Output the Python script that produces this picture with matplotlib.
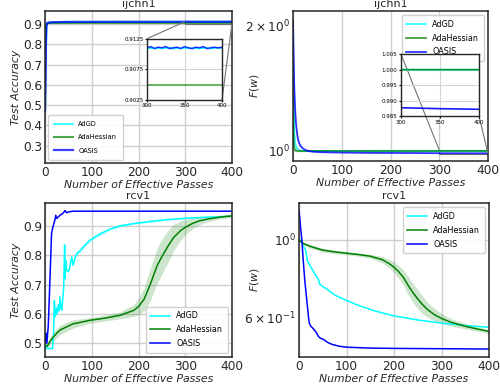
import numpy as np
import matplotlib.pyplot as plt
from matplotlib.ticker import FixedLocator
from mpl_toolkits.axes_grid1.inset_locator import mark_inset

# colores de los tres métodos
C_ADGD = 'cyan'
C_AH = 'green'
C_OASIS = 'blue'

# ---- ijcnn1: precisión ----
ij_acc_x = [0, 1, 2, 3, 4, 5, 8, 12, 20, 40, 80, 150, 220,
            300, 305, 310, 315, 320, 325, 330, 335, 340, 345, 350,
            355, 360, 365, 370, 375, 380, 385, 390, 395, 400]
ij_acc_adgd = [0.47, 0.60, 0.78, 0.87, 0.895, 0.902, 0.906, 0.908, 0.909, 0.910, 0.9105, 0.9107, 0.9108,
               0.9109, 0.9110, 0.9109, 0.9110, 0.9109, 0.9110, 0.9110, 0.9109, 0.9110, 0.9109, 0.9110,
               0.9110, 0.9109, 0.9110, 0.9109, 0.9110, 0.9110, 0.9109, 0.9110, 0.9110, 0.9110]
ij_acc_ah = [0.47, 0.75, 0.89, 0.90, 0.903, 0.904, 0.9045, 0.905, 0.905, 0.905, 0.905, 0.905, 0.905,
             0.905, 0.905, 0.905, 0.905, 0.905, 0.905, 0.905, 0.905, 0.905, 0.905, 0.905,
             0.905, 0.905, 0.905, 0.905, 0.905, 0.905, 0.905, 0.905, 0.905, 0.905]
ij_acc_oasis = [0.47, 0.62, 0.80, 0.885, 0.900, 0.905, 0.907, 0.908, 0.909, 0.910, 0.9105, 0.9108, 0.9109,
                0.9110, 0.9112, 0.9109, 0.9111, 0.9110, 0.9112, 0.9109, 0.9110, 0.9111, 0.9109, 0.9112,
                0.9110, 0.9109, 0.9111, 0.9110, 0.9112, 0.9109, 0.9110, 0.9111, 0.9110, 0.9111]

# ---- ijcnn1: función objetivo ----
ij_loss_x = [0, 1, 2, 3, 4, 5, 6, 8, 10, 12, 15, 20, 25, 30, 40, 60, 100, 150, 200, 250, 300, 350, 400]
ij_loss_adgd = [2.05, 1.45, 1.20, 1.10, 1.06, 1.04, 1.03, 1.015, 1.008, 1.005, 1.003, 1.001, 1.0005,
                1.0002, 1.0001, 1.0, 1.0, 1.0, 1.0, 1.0, 1.0, 1.0, 1.0]
ij_loss_ah = [2.05, 1.12, 1.04, 1.015, 1.007, 1.004, 1.002, 1.001, 1.0005, 1.0002, 1.0, 1.0, 1.0,
              1.0, 1.0, 1.0, 1.0, 1.0, 1.0, 1.0, 1.0, 1.0, 1.0]
ij_loss_oasis = [2.05, 1.75, 1.52, 1.38, 1.29, 1.22, 1.17, 1.11, 1.07, 1.05, 1.03, 1.015, 1.006,
                 1.001, 0.996, 0.993, 0.991, 0.9895, 0.989, 0.9885, 0.9877, 0.9874, 0.9872]
ij_loss_oasis_std = [0.04, 0.04, 0.035, 0.03, 0.025, 0.02, 0.015, 0.01, 0.008, 0.006, 0.004, 0.002, 0.001,
                     0.0005, 0.0004, 0.0003, 0.0003, 0.0003, 0.0003, 0.0003, 0.0003, 0.0003, 0.0003]

# ---- rcv1: precisión ----
rc_acc_adgd_x = [0, 2, 3, 10, 16, 18, 20, 22, 24, 26, 28, 30, 32, 34, 36, 38, 40, 42, 43, 44, 46,
                 50, 53, 57, 60, 64, 68, 75, 82, 96, 118, 139, 160, 190, 225, 260, 300, 340, 370, 400]
rc_acc_adgd = [0.53, 0.50, 0.482, 0.482, 0.482, 0.52, 0.645, 0.59, 0.62, 0.60, 0.63, 0.61, 0.658, 0.62,
               0.613, 0.65, 0.69, 0.835, 0.72, 0.783, 0.749, 0.745, 0.76, 0.794, 0.766, 0.79, 0.806,
               0.815, 0.828, 0.851, 0.873, 0.889, 0.90, 0.908, 0.915, 0.921, 0.926, 0.929, 0.931, 0.933]
rc_acc_adgd_std = [0.0, 0.0, 0.0, 0.0, 0.0, 0.0, 0.0, 0.0, 0.0, 0.0, 0.0, 0.0, 0.0, 0.0,
                   0.0, 0.0, 0.004, 0.005, 0.005, 0.005, 0.005, 0.005, 0.005, 0.005, 0.005, 0.005, 0.005,
                   0.005, 0.005, 0.005, 0.005, 0.004, 0.004, 0.003, 0.003, 0.002, 0.002, 0.001, 0.001, 0.001]

rc_acc_oasis_x = [0, 2, 4, 7, 9, 12, 14, 16, 18, 21, 23, 25, 28, 32, 36, 39, 43, 46, 52, 60, 100, 200, 300, 400]
rc_acc_oasis = [0.50, 0.535, 0.50, 0.56, 0.647, 0.78, 0.874, 0.89, 0.902, 0.919, 0.936, 0.925, 0.93, 0.936,
                0.94, 0.944, 0.952, 0.945, 0.948, 0.95, 0.95, 0.95, 0.95, 0.95]

rc_acc_ah_x = [0, 5, 10, 18, 32, 60, 96, 130, 160, 190, 200, 212, 225, 240, 250, 262, 275, 290, 300,
               315, 330, 350, 375, 400]
rc_acc_ah = [0.49, 0.49, 0.505, 0.522, 0.545, 0.566, 0.578, 0.586, 0.595, 0.612, 0.625, 0.65, 0.70,
             0.765, 0.795, 0.828, 0.86, 0.884, 0.895, 0.908, 0.917, 0.924, 0.93, 0.934]
rc_acc_ah_std = [0.005, 0.008, 0.012, 0.015, 0.016, 0.014, 0.01, 0.01, 0.012, 0.02, 0.028, 0.04,
                 0.055, 0.06, 0.06, 0.055, 0.045, 0.033, 0.026, 0.018, 0.013, 0.009, 0.006, 0.005]

# ---- rcv1: función objetivo ----
rc_loss_adgd_x = [0, 5, 10, 14, 16, 18, 20, 23, 26, 30, 33, 36, 40, 44, 50, 60, 75, 100, 130, 160,
                  200, 250, 300, 350, 400]
rc_loss_adgd = [1.01, 0.985, 0.955, 0.935, 0.90, 0.87, 0.86, 0.845, 0.83, 0.815, 0.80, 0.79, 0.775,
                0.745, 0.735, 0.72, 0.695, 0.67, 0.645, 0.625, 0.605, 0.589, 0.577, 0.568, 0.561]

rc_loss_oasis_x = [0, 3, 6, 9, 12, 15, 18, 20, 22, 25, 30, 34, 37, 41, 45, 50, 55, 60, 70, 85, 100,
                   150, 200, 300, 400]
rc_loss_oasis = [1.22, 1.10, 1.00, 0.87, 0.77, 0.70, 0.64, 0.60, 0.575, 0.565, 0.556, 0.548, 0.54,
                 0.528, 0.522, 0.519, 0.514, 0.508, 0.501, 0.495, 0.492, 0.489, 0.488, 0.487, 0.486]

rc_loss_ah_x = [0, 10, 25, 50, 75, 100, 125, 150, 175, 190, 200, 210, 220, 230, 240, 250, 260, 270,
                285, 300, 320, 350, 375, 400]
rc_loss_ah = [1.0, 0.975, 0.957, 0.935, 0.924, 0.916, 0.908, 0.898, 0.878, 0.855, 0.835, 0.81, 0.78,
              0.74, 0.705, 0.677, 0.652, 0.632, 0.61, 0.595, 0.58, 0.565, 0.555, 0.546]
rc_loss_ah_std = [0.005, 0.01, 0.012, 0.012, 0.011, 0.01, 0.01, 0.012, 0.018, 0.025, 0.03, 0.035,
                  0.04, 0.045, 0.045, 0.042, 0.038, 0.032, 0.025, 0.02, 0.015, 0.01, 0.008, 0.007]

labels = ['AdGD', 'AdaHessian', 'OASIS']

plt.rcParams['font.family'] = 'DejaVu Sans'
plt.rcParams['mathtext.fontset'] = 'dejavusans'

fig = plt.figure(figsize=(5.0, 3.87), dpi=100)


def estilo(ax, titulo, ylabel, xlab_y):
    ax.set_xlim(0, 400)
    ax.set_xticks([0, 100, 200, 300, 400])
    ax.grid(True, which='major', color='#cfcfcf', lw=1.0)
    ax.set_axisbelow(True)
    for s in ax.spines.values():
        s.set_color('#262626')
        s.set_linewidth(1.1)
    ax.tick_params(which='both', length=0, labelsize=8.7, pad=2, colors='#262626')
    ax.set_title(titulo, fontsize=8, pad=3, color='#262626')
    ax.set_xlabel('Number of Effective Passes', fontsize=7.8, style='italic', labelpad=1, color='#262626')
    ax.set_ylabel(ylabel, fontsize=7.8, style='italic', color='#262626')
    ax.yaxis.set_label_coords(xlab_y, 0.5)


def ticks_log(ax, mayores, etiq_may, menores, etiq_men):
    # marcas del eje logarítmico fijadas a mano
    ax.yaxis.set_major_locator(FixedLocator(mayores))
    ax.set_yticklabels(etiq_may)
    ax.yaxis.set_minor_locator(FixedLocator(menores))
    ax.set_yticklabels(etiq_men, minor=True)


def banda(ax, x, y, s, color, alpha=0.2):
    y = np.asarray(y)
    s = np.asarray(s)
    ax.fill_between(x, y - s, y + s, color=color, alpha=alpha, lw=0)


# ---------- ijcnn1 precisión ----------
ax1 = fig.add_axes([0.09, 0.579, 0.374, 0.393])
ax1.plot(ij_acc_x, ij_acc_adgd, color=C_ADGD, lw=1.5, alpha=0.7, label=labels[0])
ax1.plot(ij_acc_x, ij_acc_ah, color=C_AH, lw=1.5, alpha=0.7, label=labels[1])
ax1.plot(ij_acc_x, ij_acc_oasis, color=C_OASIS, lw=1.6, alpha=0.75, label=labels[2])
ax1.set_ylim(0.215, 0.965)
ax1.set_yticks([0.3, 0.4, 0.5, 0.6, 0.7, 0.8, 0.9])
estilo(ax1, 'ijchn1', 'Test Accuracy', -0.13)
ax1.legend(loc='lower left', fontsize=4.8, handlelength=2.8, borderpad=0.9, labelspacing=1.1,
           fancybox=True, framealpha=0.9, edgecolor='#cccccc')

in1 = fig.add_axes([0.294, 0.742, 0.15, 0.158])
in1.plot(ij_acc_x, ij_acc_adgd, color=C_ADGD, lw=1.2)
in1.plot(ij_acc_x, ij_acc_ah, color=C_AH, lw=1.2, alpha=0.7)
in1.plot(ij_acc_x, ij_acc_oasis, color=C_OASIS, lw=1.0, alpha=0.8)
in1.fill_between(ij_acc_x, np.array(ij_acc_oasis) - 0.0002, np.array(ij_acc_oasis) + 0.0002,
                 color=C_OASIS, alpha=0.2, lw=0)
in1.set_xlim(300, 400)
in1.set_ylim(0.9025, 0.9125)
in1.set_xticks([300, 350, 400])
in1.set_yticks([0.9025, 0.9075, 0.9125])
in1.grid(True, color='#d5d5d5', lw=0.8)
in1.tick_params(labelsize=4, length=1.5, pad=1)
for s in in1.spines.values():
    s.set_color('#262626')
    s.set_linewidth(1.0)
mark_inset(ax1, in1, loc1=2, loc2=4, fc='none', ec='0.45', lw=0.8)

# ---------- ijcnn1 función objetivo ----------
ax2 = fig.add_axes([0.586, 0.584, 0.39, 0.388])
ax2.set_yscale('log')
banda(ax2, ij_loss_x, ij_loss_oasis, ij_loss_oasis_std, C_OASIS, alpha=0.25)
ax2.plot(ij_loss_x, ij_loss_adgd, color=C_ADGD, lw=1.3, alpha=0.8, label=labels[0])
ax2.plot(ij_loss_x, ij_loss_ah, color=C_AH, lw=1.3, alpha=0.75, label=labels[1])
ax2.plot(ij_loss_x, ij_loss_oasis, color=C_OASIS, lw=1.3, alpha=0.8, label=labels[2])
ax2.set_ylim(0.946, 2.17)
ticks_log(ax2, [1.0], [r'$10^{0}$'], [2.0], [r'$2\times10^{0}$'])
estilo(ax2, 'ijchn1', '$F(w)$', -0.165)
ax2.legend(loc='upper right', fontsize=5.8, handlelength=2.4, borderpad=0.6, labelspacing=0.6,
           fancybox=True, framealpha=0.9, edgecolor='#cccccc')

in2 = fig.add_axes([0.802, 0.700, 0.156, 0.160])
in2.plot(ij_loss_x, ij_loss_adgd, color=C_ADGD, lw=1.2)
in2.plot(ij_loss_x, ij_loss_ah, color=C_AH, lw=1.2, alpha=0.8)
in2.plot(ij_loss_x, ij_loss_oasis, color=C_OASIS, lw=1.2, alpha=0.9)
in2.set_xlim(300, 400)
in2.set_ylim(0.985, 1.005)
in2.set_xticks([300, 350, 400])
in2.set_yticks([0.985, 0.990, 0.995, 1.000, 1.005])
in2.set_yticklabels(['0.985', '0.990', '0.995', '1.000', '1.005'])
in2.grid(True, color='#d5d5d5', lw=0.8)
in2.tick_params(labelsize=4, length=1.5, pad=1)
for s in in2.spines.values():
    s.set_color('#262626')
    s.set_linewidth(1.0)
mark_inset(ax2, in2, loc1=2, loc2=4, fc='none', ec='0.45', lw=0.8)

# ---------- rcv1 precisión ----------
ax3 = fig.add_axes([0.09, 0.0775, 0.374, 0.398])
banda(ax3, rc_acc_adgd_x, rc_acc_adgd, rc_acc_adgd_std, C_ADGD, alpha=0.3)
banda(ax3, rc_acc_ah_x, rc_acc_ah, rc_acc_ah_std, '#3a9a3a', alpha=0.25)
ax3.plot(rc_acc_adgd_x, rc_acc_adgd, color=C_ADGD, lw=1.1, label=labels[0])
ax3.plot(rc_acc_ah_x, rc_acc_ah, color=C_AH, lw=1.1, label=labels[1])
ax3.plot(rc_acc_oasis_x, rc_acc_oasis, color=C_OASIS, lw=1.1, label=labels[2])
ax3.set_ylim(0.453, 0.978)
ax3.set_yticks([0.5, 0.6, 0.7, 0.8, 0.9])
estilo(ax3, 'rcv1', 'Test Accuracy', -0.13)
ax3.legend(loc='lower right', fontsize=5.8, handlelength=2.4, borderpad=0.6, labelspacing=0.6,
           fancybox=True, framealpha=0.9, edgecolor='#cccccc')

# ---------- rcv1 función objetivo ----------
ax4 = fig.add_axes([0.598, 0.0775, 0.38, 0.398])
ax4.set_yscale('log')
banda(ax4, rc_loss_ah_x, rc_loss_ah, rc_loss_ah_std, '#3a9a3a', alpha=0.25)
ax4.plot(rc_loss_adgd_x, rc_loss_adgd, color=C_ADGD, lw=1.1, label=labels[0])
ax4.plot(rc_loss_ah_x, rc_loss_ah, color=C_AH, lw=1.1, label=labels[1])
ax4.plot(rc_loss_oasis_x, rc_loss_oasis, color=C_OASIS, lw=1.1, label=labels[2])
ax4.set_ylim(0.461, 1.277)
ticks_log(ax4, [1.0], [r'$10^{0}$'], [0.6], [r'$6\times10^{-1}$'])
estilo(ax4, 'rcv1', '$F(w)$', -0.2)
ax4.legend(loc='upper right', fontsize=5.8, handlelength=2.4, borderpad=0.6, labelspacing=0.6,
           fancybox=True, framealpha=0.9, edgecolor='#cccccc')

fig.savefig('out.png', dpi=100)
